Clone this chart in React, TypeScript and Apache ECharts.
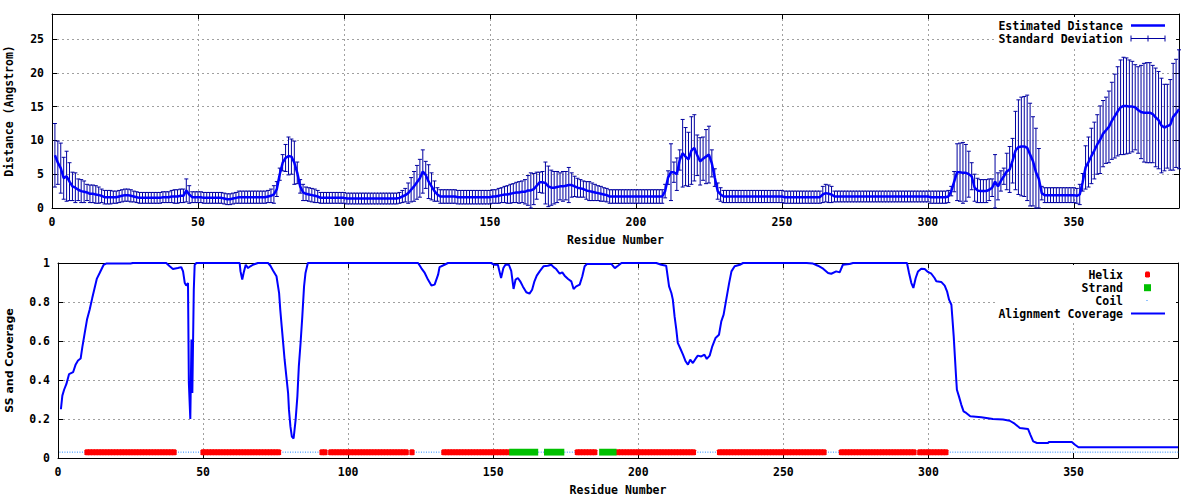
import React, { useEffect, useRef } from "react";
import * as echarts from "echarts";

// ---------------- DATA ----------------
// Estimated distance (Angstrom) per residue, residues 1..386
const DIST_001_050 = [
  7.8, 6.7, 5.9, 4.4, 4.7, 3.9, 3.2, 3.0, 2.7, 2.5,
  2.4, 2.3, 2.1, 2.1, 2.0, 1.9, 1.8, 1.6, 1.6, 1.6,
  1.6, 1.6, 1.7, 1.8, 1.9, 1.9, 1.8, 1.7, 1.6, 1.5,
  1.5, 1.5, 1.5, 1.5, 1.5, 1.5, 1.5, 1.6, 1.6, 1.6,
  1.7, 1.7, 1.7, 1.8, 1.8, 2.6, 2.0, 1.6, 1.6, 1.6,
];
const DIST_051_100 = [
  1.6, 1.5, 1.5, 1.5, 1.5, 1.5, 1.5, 1.5, 1.4, 1.3,
  1.3, 1.4, 1.5, 1.6, 1.6, 1.6, 1.6, 1.6, 1.6, 1.6,
  1.6, 1.6, 1.6, 1.7, 1.8, 2.0, 2.8, 5.0, 6.7, 7.4,
  7.7, 7.6, 6.7, 5.2, 3.2, 2.3, 2.1, 2.0, 1.9, 1.8,
  1.7, 1.5, 1.5, 1.5, 1.5, 1.5, 1.5, 1.5, 1.5, 1.5,
];
const DIST_101_150 = [
  1.4, 1.4, 1.4, 1.4, 1.4, 1.4, 1.4, 1.4, 1.4, 1.4,
  1.4, 1.4, 1.4, 1.4, 1.4, 1.4, 1.4, 1.4, 1.5, 1.7,
  1.9, 2.2, 2.7, 3.2, 3.8, 4.4, 5.4, 4.9, 3.9, 3.2,
  2.5, 2.0, 1.7, 1.7, 1.7, 1.7, 1.7, 1.7, 1.6, 1.6,
  1.6, 1.6, 1.6, 1.6, 1.6, 1.6, 1.6, 1.6, 1.6, 1.6,
];
const DIST_151_200 = [
  1.7, 1.7, 1.8, 1.9, 2.0, 2.0, 2.1, 2.2, 2.3, 2.3,
  2.4, 2.4, 2.6, 2.6, 2.8, 3.3, 3.8, 3.8, 3.7, 3.2,
  3.0, 3.0, 3.1, 3.2, 3.2, 3.3, 3.4, 3.4, 3.2, 3.0,
  2.9, 2.8, 2.6, 2.5, 2.4, 2.3, 2.2, 2.1, 2.0, 1.9,
  1.7, 1.7, 1.7, 1.7, 1.7, 1.7, 1.7, 1.7, 1.7, 1.7,
];
const DIST_201_250 = [
  1.7, 1.7, 1.7, 1.7, 1.7, 1.7, 1.7, 1.7, 1.7, 2.5,
  4.5, 5.3, 5.3, 5.0, 7.1, 8.1, 7.6, 7.2, 8.5, 8.9,
  7.8, 6.9, 7.3, 7.6, 7.9, 6.6, 4.5, 2.5, 2.0, 1.7,
  1.7, 1.7, 1.7, 1.7, 1.7, 1.7, 1.7, 1.7, 1.7, 1.7,
  1.7, 1.7, 1.7, 1.7, 1.7, 1.7, 1.7, 1.7, 1.7, 1.7,
];
const DIST_251_300 = [
  1.6, 1.6, 1.6, 1.6, 1.6, 1.6, 1.6, 1.6, 1.6, 1.6,
  1.6, 1.6, 1.6, 2.0, 2.2, 2.1, 2.0, 1.7, 1.7, 1.7,
  1.7, 1.7, 1.7, 1.7, 1.7, 1.7, 1.7, 1.7, 1.7, 1.7,
  1.7, 1.7, 1.7, 1.7, 1.7, 1.7, 1.7, 1.7, 1.7, 1.7,
  1.7, 1.7, 1.7, 1.7, 1.7, 1.7, 1.7, 1.7, 1.7, 1.7,
];
const DIST_301_350 = [
  1.6, 1.6, 1.6, 1.6, 1.6, 1.6, 1.7, 2.5, 3.9, 5.3,
  5.3, 5.2, 5.2, 5.0, 4.7, 3.0, 2.6, 2.5, 2.5, 2.5,
  2.7, 3.0, 3.9, 3.2, 4.0, 4.7, 5.4, 5.7, 7.0, 8.5,
  9.0, 9.1, 9.1, 8.9, 7.9, 6.9, 5.3, 4.3, 2.2, 1.9,
  1.9, 1.9, 1.9, 1.9, 1.9, 1.9, 1.9, 1.9, 1.9, 1.9,
];
const DIST_351_386 = [
  1.8, 2.0, 3.8, 6.0, 6.8, 7.7, 8.5, 9.4, 10.1, 11.0,
  11.5, 12.0, 12.9, 13.6, 14.3, 14.9, 15.1, 15.1, 15.0, 15.0,
  14.9, 14.5, 14.2, 14.1, 14.1, 14.1, 13.9, 13.4, 13.0, 12.2,
  11.9, 12.1, 12.3, 13.5, 14.0, 14.6,
];

// Standard deviation per residue, residues 1..386
const SD_001_050 = [
  4.7, 3.2, 3.7, 3.1, 3.7, 2.8, 2.1, 2.2, 1.6, 1.7,
  1.6, 1.2, 1.3, 1.3, 1.3, 1.2, 1.0, 1.0, 1.0, 1.0,
  0.9, 0.9, 0.9, 0.9, 0.9, 0.9, 0.9, 0.8, 0.8, 0.8,
  0.8, 0.8, 0.8, 0.8, 0.8, 0.8, 0.8, 0.8, 0.8, 0.8,
  0.9, 1.0, 1.0, 1.0, 1.0, 1.7, 1.3, 0.8, 0.8, 0.8,
];
const SD_051_100 = [
  0.8, 0.8, 0.8, 0.8, 0.8, 0.8, 0.8, 0.8, 0.8, 0.8,
  0.8, 0.8, 0.8, 0.9, 0.9, 0.9, 0.9, 0.9, 0.9, 0.9,
  0.9, 0.9, 0.9, 0.9, 1.0, 1.3, 1.1, 0.9, 1.2, 2.0,
  2.8, 2.6, 3.2, 1.6, 1.0, 1.2, 1.0, 1.0, 1.0, 1.0,
  0.9, 0.8, 0.8, 0.8, 0.8, 0.8, 0.8, 0.8, 0.8, 0.8,
];
const SD_101_150 = [
  0.8, 0.8, 0.8, 0.8, 0.8, 0.8, 0.8, 0.8, 0.8, 0.8,
  0.8, 0.8, 0.8, 0.8, 0.8, 0.8, 0.8, 0.8, 0.8, 0.9,
  1.0, 1.5, 1.8, 2.2, 2.5, 2.8, 3.2, 2.0, 2.5, 2.0,
  1.5, 1.0, 1.0, 1.0, 1.0, 1.0, 1.0, 1.0, 1.0, 1.0,
  1.0, 1.0, 1.0, 1.0, 1.0, 1.0, 1.0, 1.0, 1.0, 1.0,
];
const SD_151_200 = [
  1.0, 1.0, 1.1, 1.1, 1.2, 1.3, 1.4, 1.4, 1.5, 1.6,
  1.6, 1.8, 2.2, 2.6, 2.3, 2.0, 1.5, 1.6, 3.1, 3.0,
  2.6, 2.4, 2.3, 2.0, 2.2, 2.1, 2.6, 1.8, 1.5, 1.4,
  1.3, 1.2, 1.3, 1.4, 1.3, 1.2, 1.1, 1.1, 1.0, 1.0,
  1.0, 1.0, 1.0, 1.0, 1.0, 1.0, 1.0, 1.0, 1.0, 1.0,
];
const SD_201_250 = [
  1.0, 1.0, 1.0, 1.0, 1.0, 1.0, 1.0, 1.0, 1.0, 1.0,
  1.0, 4.2, 1.5, 2.4, 1.5, 5.0, 4.3, 4.0, 5.0, 4.9,
  3.0, 3.5, 3.2, 4.0, 4.2, 2.0, 1.3, 1.2, 1.0, 0.9,
  0.9, 0.9, 0.9, 0.9, 0.9, 0.9, 0.9, 0.9, 0.9, 0.9,
  0.9, 0.9, 0.9, 0.9, 0.9, 0.9, 0.9, 0.9, 0.9, 0.9,
];
const SD_251_300 = [
  0.9, 0.9, 0.9, 0.9, 0.9, 0.9, 0.9, 0.9, 0.9, 0.9,
  0.9, 0.9, 0.9, 1.2, 1.3, 1.3, 1.2, 0.8, 0.8, 0.8,
  0.8, 0.8, 0.8, 0.8, 0.8, 0.8, 0.8, 0.8, 0.8, 0.8,
  0.8, 0.8, 0.8, 0.8, 0.8, 0.8, 0.8, 0.8, 0.8, 0.8,
  0.8, 0.8, 0.8, 0.8, 0.8, 0.8, 0.8, 0.8, 0.8, 0.8,
];
const SD_301_350 = [
  0.9, 0.9, 0.9, 0.9, 0.9, 0.9, 0.9, 0.7, 1.5, 4.2,
  4.3, 4.5, 4.2, 3.4, 2.0, 2.0, 1.8, 1.7, 1.7, 1.7,
  1.6, 1.3, 4.0, 2.0, 1.5, 1.2, 2.7, 3.4, 3.3, 5.8,
  7.0, 7.3, 7.4, 7.8, 7.6, 6.6, 6.5, 4.5, 1.0, 1.1,
  1.1, 1.1, 1.1, 1.1, 1.1, 1.1, 1.1, 1.1, 1.1, 1.1,
];
const SD_351_386 = [
  1.1, 1.5, 1.3, 3.2, 3.7, 4.1, 4.2, 4.4, 5.0, 4.9,
  4.9, 5.3, 5.7, 6.2, 6.6, 7.0, 7.2, 7.1, 6.9, 6.7,
  6.3, 6.4, 6.9, 7.3, 7.4, 7.4, 7.2, 7.3, 7.2, 7.0,
  6.4, 6.2, 6.7, 7.9, 8.0, 8.8,
];

const DISTANCE = [
  ...DIST_001_050, ...DIST_051_100, ...DIST_101_150, ...DIST_151_200,
  ...DIST_201_250, ...DIST_251_300, ...DIST_301_350, ...DIST_351_386,
];
const STD_DEV = [
  ...SD_001_050, ...SD_051_100, ...SD_101_150, ...SD_151_200,
  ...SD_201_250, ...SD_251_300, ...SD_301_350, ...SD_351_386,
];

// Alignment coverage: [residue, coverage] vertices of the line
const COVERAGE = [
  [1, 0.25], [1.5, 0.32], [2.1, 0.35], [2.9, 0.38], [3.8, 0.43], [5.2, 0.44], [6.1, 0.48],
  [6.9, 0.5], [7.8, 0.51], [8.4, 0.57], [9.2, 0.64], [10, 0.71], [10.9, 0.76], [11.8, 0.82],
  [12.6, 0.87], [13.4, 0.92], [14.4, 0.95], [15.7, 0.99], [16.6, 0.997], [25, 0.997],
  [25.8, 1], [37.3, 1], [38.5, 0.983], [39.6, 0.969], [41.3, 0.974], [42.5, 0.979],
  [43.1, 0.957], [43.7, 0.897], [44.2, 0.884], [44.8, 0.897], [45.1, 0.385], [45.6, 0.2],
  [46, 0.607], [46.3, 0.333], [46.8, 0.863], [47.1, 0.99], [47.7, 1],
  [62.6, 1], [62.9, 0.957], [63.5, 0.915], [64.1, 0.957], [64.7, 0.991], [65.5, 0.974],
  [66.3, 0.983], [67.2, 0.991], [68.9, 1], [72.4, 1], [73.2, 0.986], [74.1, 0.962],
  [75.3, 0.932], [76.2, 0.846], [76.6, 0.761], [77.1, 0.675], [77.5, 0.607], [78.1, 0.504],
  [78.7, 0.419], [79.3, 0.333], [79.6, 0.248], [80.1, 0.162], [80.6, 0.11], [81.2, 0.1],
  [81.9, 0.197], [82.5, 0.316], [83, 0.47], [83.6, 0.59], [84.2, 0.726], [84.8, 0.88],
  [85.3, 0.949], [86.1, 1],
  [124.1, 1], [125.2, 0.974], [126.4, 0.949], [127.5, 0.915], [128.7, 0.885], [129.8, 0.889],
  [131, 0.94], [131.5, 0.979], [133.2, 0.991], [134.4, 1], [149.3, 1], [150.4, 0.991],
  [151.6, 0.991], [152.7, 0.923], [153.5, 0.974], [154.2, 0.991], [155.4, 0.991],
  [156.2, 0.96], [157, 0.867], [157.7, 0.915], [158.5, 0.923], [159.3, 0.906], [160.2, 0.88],
  [161.4, 0.85], [162.5, 0.843], [163.4, 0.863], [164.2, 0.906], [165, 0.935], [166, 0.957],
  [167.3, 0.983], [168.8, 0.986], [170, 0.991], [170.8, 0.979], [171.7, 0.969],
  [172.9, 0.945], [173.8, 0.952], [174.6, 0.935], [175.8, 0.918], [176.9, 0.906],
  [177.7, 0.867], [178.6, 0.88], [179.8, 0.889], [180.7, 0.932], [181.5, 0.983],
  [182.3, 0.995], [190.7, 0.995], [191.9, 0.974], [193, 0.986], [194.2, 1], [206.2, 1],
  [207.9, 0.991], [209.6, 0.986], [210.6, 0.88], [211.4, 0.846], [211.9, 0.812],
  [212.5, 0.726], [213.1, 0.658], [213.6, 0.59], [214.4, 0.564], [215.4, 0.53],
  [216.3, 0.496], [217.1, 0.479], [217.9, 0.504], [218.8, 0.487], [219.7, 0.508],
  [220.5, 0.525], [221.7, 0.521], [222.8, 0.53], [223.6, 0.508], [224.6, 0.525],
  [225.5, 0.573], [226.6, 0.615], [227.8, 0.632], [228.6, 0.701], [229.4, 0.735],
  [230.3, 0.812], [231.3, 0.897], [232.1, 0.957], [233.2, 0.983], [235, 0.991], [236.1, 1],
  [258, 1], [260.2, 0.997], [261.9, 0.986], [263.7, 0.971], [265.4, 0.949], [266.5, 0.945],
  [268.2, 0.957], [269.4, 0.952], [270.5, 0.991], [272.8, 0.995], [274, 1], [292.6, 1],
  [293.3, 0.949], [294.1, 0.897], [294.8, 0.872], [295.6, 0.923], [296.4, 0.957],
  [297.5, 0.971], [298.7, 0.969], [299.8, 0.954], [301, 0.945], [302.1, 0.923],
  [302.7, 0.906], [304.4, 0.903], [305.6, 0.884], [306.4, 0.855], [307.1, 0.812],
  [307.9, 0.786], [308.2, 0.726], [308.7, 0.624], [309.1, 0.521], [309.5, 0.419],
  [309.8, 0.35], [310.5, 0.316], [311.3, 0.274], [312.1, 0.239], [313, 0.231],
  [314.4, 0.214], [318.2, 0.209], [322.2, 0.2], [325.7, 0.197], [328, 0.191],
  [329.7, 0.176], [331.5, 0.154], [334.3, 0.149], [335.1, 0.12], [336.1, 0.085],
  [337.4, 0.077], [341.2, 0.077], [341.5, 0.082], [349.4, 0.082], [350.5, 0.068],
  [351.7, 0.055], [386, 0.055],
];

// Secondary structure segments: [first residue, last residue]
const HELIX_SEGMENTS = [
  [10, 40], [50, 76], [91, 92], [94, 120], [122, 122], [133, 155],
  [179, 185], [193, 219], [228, 264], [270, 295], [297, 306],
];
const STRAND_SEGMENTS = [[156, 165], [168, 174], [187, 192]];
const COIL_SEGMENTS = [
  [1, 9], [41, 49], [77, 90], [93, 93], [121, 121], [123, 132], [166, 167],
  [175, 178], [220, 227], [265, 269], [296, 296], [307, 386],
];
const SS_LEVEL = 0.03;

const X_TICKS = [0, 50, 100, 150, 200, 250, 300, 350];
const Y1_TICKS = [0, 5, 10, 15, 20, 25];

// ---------------- STYLE ----------------
const MONO = "'DejaVu Sans Mono', monospace";
const LINE_BLUE = "#0000ff";
const BAR_BLUE = "#0000a0";
const HELIX_RED = "#ff0000";
const STRAND_GREEN = "#00c000";
const COIL_BLUE = "#2288ff";
const GRID_GRAY = "#a0a0a0";

const labelFont = { fontFamily: MONO, fontWeight: "bold" as const, fontSize: 11.5, color: "#000" };

export default function App() {
  const ref = useRef<HTMLDivElement>(null);

  useEffect(() => {
    if (!ref.current) return;
    const chart = echarts.init(ref.current, undefined, { renderer: "svg" });

    const residues = DISTANCE.map((_, i) => i + 1);
    const errData = residues.map((r, i) => [r, DISTANCE[i], STD_DEV[i]]);
    const meanData = residues.map((r, i) => [r, DISTANCE[i]]);

    const coilData: any[] = [];
    COIL_SEGMENTS.forEach(([s, e]) => {
      coilData.push([s - 0.5, SS_LEVEL], [e + 0.5, SS_LEVEL], null);
    });

    const axisLine = { show: true, onZero: false, lineStyle: { color: "#000", width: 1 } };
    const tickIn = { show: true, inside: true, length: 5, lineStyle: { color: "#000" } };
    const split = { show: true, lineStyle: { color: GRID_GRAY, type: [2, 3] as any, width: 1 } };

    const xBase = (gridIndex: number) => ({
      type: "value" as const,
      gridIndex,
      min: 0,
      max: 386,
      interval: 50,
      axisLine,
      axisTick: tickIn,
    });

    const xAxes = [0, 1].flatMap((g) => [
      {
        ...xBase(g),
        position: "bottom" as const,
        name: "Residue Number",
        nameLocation: "middle" as const,
        nameGap: 26,
        nameTextStyle: labelFont,
        axisLabel: {
          ...labelFont,
          margin: 8,
          formatter: (v: number) => (X_TICKS.includes(v) ? String(v) : ""),
        },
        splitLine: split,
      },
      {
        ...xBase(g),
        position: "top" as const,
        axisLabel: { show: false },
        splitLine: { show: false },
      },
    ]);

    const yAxes = [
      {
        type: "value" as const,
        gridIndex: 0,
        position: "left" as const,
        min: 0,
        max: 28.7,
        interval: 5,
        axisLine,
        axisTick: tickIn,
        name: "Distance (Angstrom)",
        nameLocation: "middle" as const,
        nameRotate: 90,
        nameGap: 37,
        nameTextStyle: labelFont,
        axisLabel: {
          ...labelFont,
          margin: 8,
          formatter: (v: number) => (Y1_TICKS.includes(v) ? String(v) : ""),
        },
        splitLine: split,
      },
      {
        type: "value" as const,
        gridIndex: 0,
        position: "right" as const,
        min: 0,
        max: 28.7,
        interval: 5,
        axisLine,
        axisTick: tickIn,
        axisLabel: { show: false },
        splitLine: { show: false },
      },
      {
        type: "value" as const,
        gridIndex: 1,
        position: "left" as const,
        min: 0,
        max: 1,
        interval: 0.2,
        axisLine,
        axisTick: tickIn,
        name: "SS and Coverage",
        nameLocation: "middle" as const,
        nameRotate: 90,
        nameGap: 43,
        nameTextStyle: { fontFamily: "'DejaVu Sans', sans-serif", fontWeight: "bold", fontSize: 11, color: "#000" },
        axisLabel: { ...labelFont, margin: 8 },
        splitLine: split,
      },
      {
        type: "value" as const,
        gridIndex: 1,
        position: "right" as const,
        min: 0,
        max: 1,
        interval: 0.2,
        axisLine,
        axisTick: tickIn,
        axisLabel: { show: false },
        splitLine: { show: false },
      },
    ];

    const errorRender = (params: any, api: any) => {
      const x = api.value(0);
      const m = api.value(1);
      const s = api.value(2);
      const hi = api.coord([x, m + s]);
      const lo = api.coord([x, Math.max(0, m - s)]);
      const cap = 2;
      const style = { stroke: BAR_BLUE, lineWidth: 1, fill: "none" };
      return {
        type: "group",
        children: [
          { type: "line", shape: { x1: hi[0], y1: hi[1], x2: lo[0], y2: lo[1] }, style },
          { type: "line", shape: { x1: hi[0] - cap, y1: hi[1], x2: hi[0] + cap, y2: hi[1] }, style },
          { type: "line", shape: { x1: lo[0] - cap, y1: lo[1], x2: lo[0] + cap, y2: lo[1] }, style },
        ],
      };
    };

    const helixRender = (params: any, api: any) => {
      const s = api.value(0);
      const e = api.value(1);
      const children: any[] = [];
      for (let r = s; r <= e; r++) {
        const [cx, cy] = api.coord([r, SS_LEVEL]);
        children.push({
          type: "polygon",
          shape: {
            points: [
              [cx - 2.6, cy - 2], [cx - 1.6, cy - 3], [cx + 1.6, cy - 3], [cx + 2.6, cy - 2],
              [cx + 2.6, cy + 2], [cx + 1.6, cy + 3], [cx - 1.6, cy + 3], [cx - 2.6, cy + 2],
            ],
          },
          style: { fill: HELIX_RED },
        });
      }
      return { type: "group", children };
    };

    const strandRender = (params: any, api: any) => {
      const a = api.coord([api.value(0) - 0.5, SS_LEVEL]);
      const b = api.coord([api.value(1) + 0.5, SS_LEVEL]);
      return {
        type: "rect",
        shape: { x: a[0], y: a[1] - 3.4, width: b[0] - a[0], height: 6.8 },
        style: { fill: STRAND_GREEN },
      };
    };

    const T = { fontFamily: MONO, fontWeight: "bold", fontSize: 11.5, fill: "#000" };

    const option: any = {
      animation: false,
      grid: [
        { left: 52, top: 14, width: 1127, height: 194, containLabel: false, outerBoundsMode: "none" },
        { left: 58, top: 263, width: 1120, height: 195, containLabel: false, outerBoundsMode: "none" },
      ],
      xAxis: xAxes,
      yAxis: yAxes,
      series: [
        {
          name: "Standard Deviation",
          type: "custom",
          xAxisIndex: 0,
          yAxisIndex: 0,
          data: errData,
          encode: { x: 0, y: 1 },
          renderItem: errorRender,
          z: 2,
        },
        {
          name: "Estimated Distance",
          type: "line",
          xAxisIndex: 0,
          yAxisIndex: 0,
          data: meanData,
          showSymbol: false,
          symbol: "none",
          lineStyle: { color: LINE_BLUE, width: 2.5 },
          z: 3,
        },
        {
          name: "Coil",
          type: "line",
          xAxisIndex: 2,
          yAxisIndex: 2,
          data: coilData,
          connectNulls: false,
          symbol: "none",
          lineStyle: { color: COIL_BLUE, width: 1, type: [1, 1.5] },
          z: 2,
        },
        {
          name: "Helix",
          type: "custom",
          xAxisIndex: 2,
          yAxisIndex: 2,
          data: HELIX_SEGMENTS,
          encode: { x: [0, 1] },
          renderItem: helixRender,
          z: 3,
        },
        {
          name: "Strand",
          type: "custom",
          xAxisIndex: 2,
          yAxisIndex: 2,
          data: STRAND_SEGMENTS,
          encode: { x: [0, 1] },
          renderItem: strandRender,
          z: 3,
        },
        {
          name: "Alignment Coverage",
          type: "line",
          xAxisIndex: 2,
          yAxisIndex: 2,
          data: COVERAGE,
          symbol: "none",
          clip: false,
          lineStyle: { color: LINE_BLUE, width: 2 },
          z: 4,
        },
      ],
      graphic: [
        // top key
        { type: "rect", z: 100, shape: { x: 994, y: 17, width: 182, height: 29 }, style: { fill: "#fff" } },
        { type: "text", z: 101, x: 1123, y: 25.5, style: { ...T, text: "Estimated Distance", align: "right", verticalAlign: "middle" } },
        { type: "line", z: 101, shape: { x1: 1131, y1: 25.5, x2: 1165, y2: 25.5 }, style: { stroke: LINE_BLUE, lineWidth: 2.5 } },
        { type: "text", z: 101, x: 1123, y: 38.5, style: { ...T, text: "Standard Deviation", align: "right", verticalAlign: "middle" } },
        { type: "line", z: 101, shape: { x1: 1131, y1: 38.5, x2: 1165, y2: 38.5 }, style: { stroke: BAR_BLUE, lineWidth: 1 } },
        { type: "line", z: 101, shape: { x1: 1131, y1: 35.5, x2: 1131, y2: 41.5 }, style: { stroke: BAR_BLUE, lineWidth: 1 } },
        { type: "line", z: 101, shape: { x1: 1148, y1: 35.5, x2: 1148, y2: 41.5 }, style: { stroke: BAR_BLUE, lineWidth: 1 } },
        { type: "line", z: 101, shape: { x1: 1165, y1: 35.5, x2: 1165, y2: 41.5 }, style: { stroke: BAR_BLUE, lineWidth: 1 } },
        // bottom key
        { type: "rect", z: 100, shape: { x: 997, y: 265, width: 179, height: 56 }, style: { fill: "#fff" } },
        { type: "text", z: 101, x: 1123, y: 274.5, style: { ...T, text: "Helix", align: "right", verticalAlign: "middle" } },
        {
          type: "polygon", z: 101,
          shape: { points: [[1145, 272.5], [1146, 271.5], [1149, 271.5], [1150, 272.5], [1150, 276.5], [1149, 277.5], [1146, 277.5], [1145, 276.5]] },
          style: { fill: HELIX_RED },
        },
        { type: "text", z: 101, x: 1123, y: 287.5, style: { ...T, text: "Strand", align: "right", verticalAlign: "middle" } },
        { type: "rect", z: 101, shape: { x: 1144, y: 284.2, width: 7, height: 7 }, style: { fill: STRAND_GREEN } },
        { type: "text", z: 101, x: 1123, y: 300.5, style: { ...T, text: "Coil", align: "right", verticalAlign: "middle" } },
        { type: "rect", z: 101, shape: { x: 1146.5, y: 300, width: 1, height: 1 }, style: { fill: COIL_BLUE } },
        { type: "text", z: 101, x: 1123, y: 313.5, style: { ...T, text: "Alignment Coverage", align: "right", verticalAlign: "middle" } },
        { type: "line", z: 101, shape: { x1: 1131, y1: 313.5, x2: 1165, y2: 313.5 }, style: { stroke: LINE_BLUE, lineWidth: 2 } },
      ],
    };

    chart.setOption(option);
    return () => chart.dispose();
  }, []);

  return (
    <div
      ref={ref}
      style={{ position: "absolute", left: 0, top: 0, width: 1200, height: 500, background: "#fff" }}
    />
  );
}
